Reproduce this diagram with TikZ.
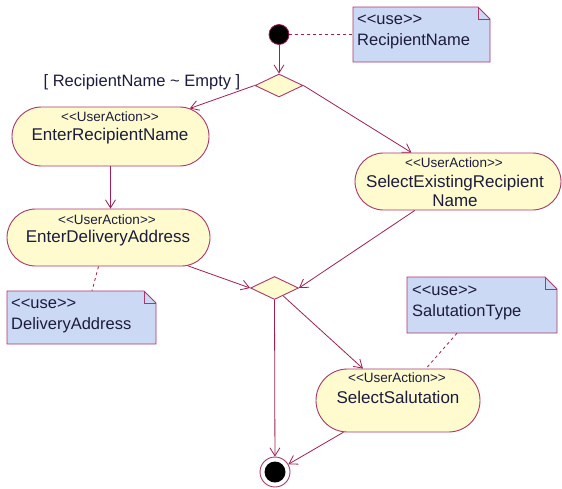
\documentclass[tikz,border=0pt]{standalone}
\usepackage{fontspec}
\setmainfont{Liberation Sans}[Ligatures=TeXOff]
\usetikzlibrary{shapes.misc,shapes.geometric,arrows.meta,calc}
\definecolor{edge}{HTML}{9E1F52}
\definecolor{border}{HTML}{A8386A}
\definecolor{actfill}{HTML}{FFFBCF}
\definecolor{notefill}{HTML}{CCD9F5}
\definecolor{ink}{HTML}{1C1C3C}
\newcommand\notebox[5]{%
  \path[fill=notefill, draw=border, line width=0.9pt, line join=miter]
    (#2,#3) -- (#4-12,#3) -- (#4,#3+12) -- (#4,#5) -- (#2,#5) -- cycle;
  \draw[border, line width=0.7pt] (#4-12,#3) -- (#4-12,#3+12) -- (#4,#3+12);
  \node[inner sep=0pt, minimum width={(#4-#2)*1pt}, minimum height={(#5-#3)*1pt}] (#1) at ({(#2+#4)/2},{(#3+#5)/2}) {};
}
\begin{document}
\begin{tikzpicture}[x=1pt,y=-1pt,
  action/.style={rounded rectangle, draw=border, fill=actfill, line width=0.9pt, inner sep=0pt},
  stereo/.style={font=\fontsize{13.5}{15}\selectfont, text=ink, inner sep=0pt},
  aname/.style={font=\fontsize{17}{18.5}\selectfont, text=ink, inner sep=0pt, align=center},
  decision/.style={diamond, draw=border, fill=actfill, line width=0.9pt, minimum width=48pt, minimum height=23pt, inner sep=0pt},
  notetxt/.style={font=\fontsize{16.5}{20}\selectfont, text=ink, inner sep=0pt, anchor=base west},
  guard/.style={font=\fontsize{16.5}{20}\selectfont, text=ink, inner sep=0pt},
  flow/.style={draw=edge, line width=0.8pt, -{Straight Barb[length=8pt,width=10pt]}},
  link/.style={draw=edge, line width=0.8pt, dash pattern=on 3pt off 3pt},
]
\useasboundingbox (0,0) rectangle (562,488);

% notes
\notebox{n1}{353}{7}{490}{62}
\node[notetxt] (n1a) at (357,24.5) {<<use>>};
\node[notetxt] (n1b) at (357,45) {RecipientName};
\notebox{n2}{7}{291}{156}{344}
\node[notetxt] (n2a) at (11,308) {<<use>>};
\node[notetxt] (n2b) at (11,329) {DeliveryAddress};
\notebox{n3}{407}{277}{557}{333}
\node[notetxt] (n3a) at (412,295) {<<use>>};
\node[notetxt] (n3b) at (412,316) {SalutationType};

% initial and final
\node[circle, fill=black, draw=edge, line width=0.8pt, minimum size=20pt, inner sep=0pt] (init) at (279,34.5) {};
\node[circle, fill=white, draw=border, line width=0.9pt, minimum size=30pt, inner sep=0pt] (fin) at (275,472) {};
\node[circle, fill=black, minimum size=21pt, inner sep=0pt] (finIn) at (275,472) {};

% decisions
\node[decision] (d1) at (279,85.5) {};
\node[decision] (d2) at (274.5,288) {};

% actions
\node[action, minimum width=197pt, minimum height=59pt] (erA) at (110.5,136.5) {};
\node[stereo] (erS) at (110,117) {<<UserAction>>};
\node[aname] (erN) at (110,136) {EnterRecipientName};

\node[action, minimum width=203pt, minimum height=57pt] (edA) at (108.5,237.5) {};
\node[stereo] (edS) at (107,220) {<<UserAction>>};
\node[aname] (edN) at (108,238) {EnterDeliveryAddress};

\node[action, minimum width=206pt, minimum height=57pt] (selA) at (458,181.5) {};
\node[stereo] (selS) at (454,163) {<<UserAction>>};
\node[aname] (selN) at (455,191) {SelectExistingRecipient\\Name};

\node[action, minimum width=164pt, minimum height=63pt] (ssA) at (398,400.5) {};
\node[stereo] (ssS) at (397,378) {<<UserAction>>};
\node[aname] (ssN) at (398,397) {SelectSalutation};

% guard
\node[guard] (g) at (142,82) {[ RecipientName \textasciitilde{} Empty ]};

% note links
\draw[link] (init) -- (n1);
\draw[link] ($(edA.south)+(-10,0)$) -- ($(n2.north)+(10.5,0)$);
\draw[link] ($(n3.south)+(-25,0)$) -- ($(ssA.north)+(28,0)$);

% flows
\draw[flow] (init) -- (d1.north);
\draw[flow] (d1.west) -- (erA);
\draw[flow] (d1.east) -- (selA);
\draw[flow] (erA.south) -- (erA.south |- edA.north);
\draw[flow] (edA) -- (d2.west);
\draw[flow] (selA) -- (d2.east);
\draw[flow] (d2.south) -- (fin);
\draw[flow] (d2) -- (ssA);
\draw[flow] (ssA) -- (fin);
\end{tikzpicture}
\end{document}
